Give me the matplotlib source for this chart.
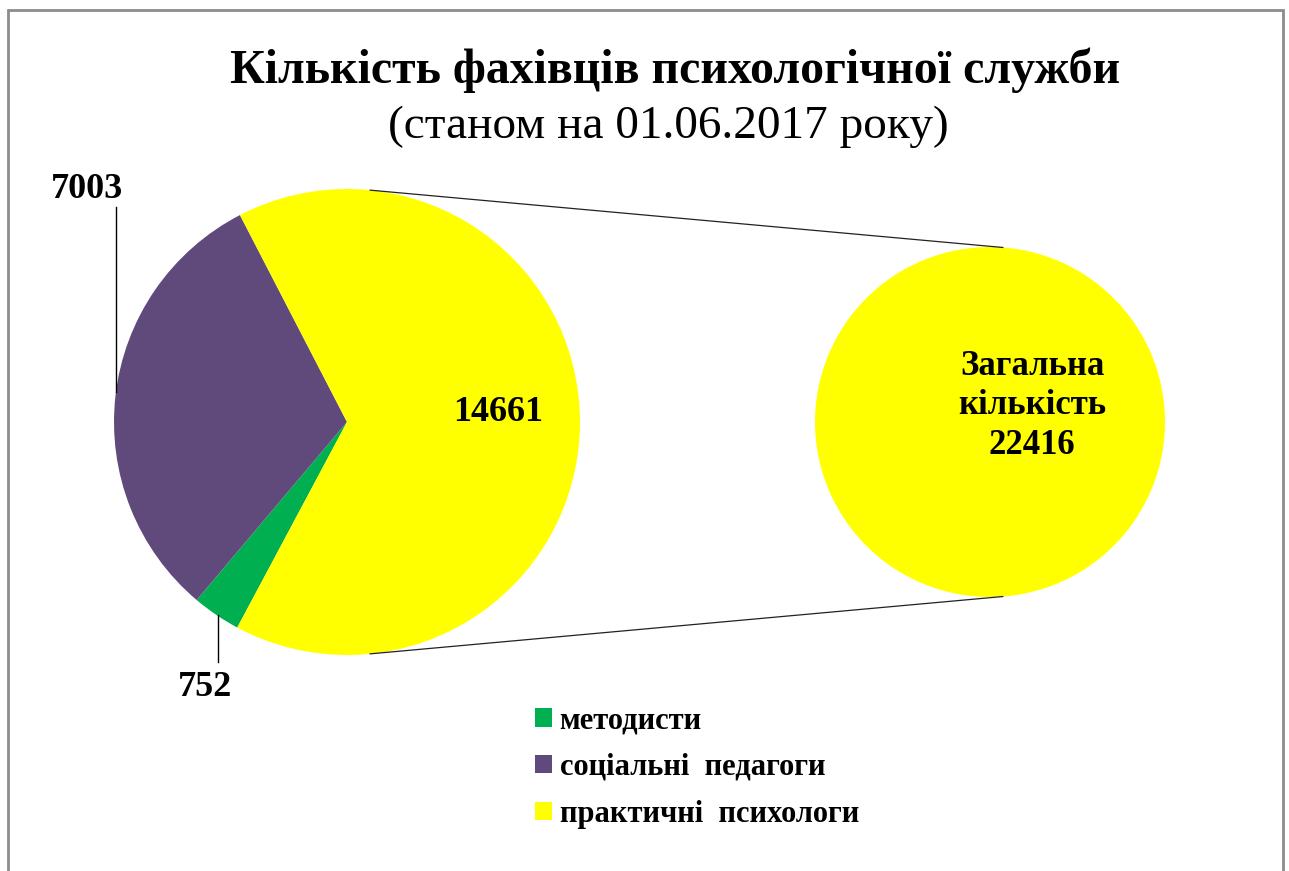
import numpy as np
import matplotlib
matplotlib.use("Agg")
import matplotlib.pyplot as plt
from matplotlib.patches import Rectangle

plt.rcParams['font.family'] = ['Liberation Serif', 'DejaVu Serif']

# дані
categories = ['методисти', 'соціальні  педагоги', 'практичні  психологи']
values = [752, 7003, 14661]
colors = ['#00B050', '#604A7B', '#FFFF00']
total = sum(values)

W, H = 1289, 871
fig = plt.figure(figsize=(W / 100, H / 100), dpi=100)
ax = fig.add_axes([0, 0, 1, 1])

# рамка
ax.add_patch(Rectangle((8, -10), 1275, H - 10 + 10, fill=False,
                       edgecolor='#8c8c8c', linewidth=2))

# основний круг
c1 = (347, H - 422)
r1 = 233
wedges, _ = ax.pie(values, colors=colors, startangle=241.9, counterclock=False,
                   center=c1, radius=r1, frame=True,
                   wedgeprops=dict(linewidth=0))

# другий круг (загальна кількість)
c2 = (990, H - 422)
r2 = 175
ax.pie([total], colors=[colors[2]], center=c2, radius=r2, frame=True,
       wedgeprops=dict(linewidth=0))
ax.set_xlim(0, W)
ax.set_ylim(0, H)
ax.set_aspect('equal')
ax.axis('off')

# лінії з'єднання
a1 = np.deg2rad(84.3)
a2 = np.deg2rad(85.8)
for s in (1, -1):
    p1 = (c1[0] + r1 * np.cos(a1), c1[1] + s * r1 * np.sin(a1))
    p2 = (c2[0] + r2 * np.cos(a2), c2[1] + s * r2 * np.sin(a2))
    ax.plot([p1[0], p2[0]], [p1[1], p2[1]], color='#222222', lw=0.9)

# підписи
ax.text(675, H - 70, 'Кількість фахівців психологічної служби', ha='center',
        va='center', fontsize=34.5, fontweight='bold')
ax.text(668, H - 127, '(станом на 01.06.2017 року)', ha='center',
        va='center', fontsize=34)

ax.text(498, H - 413, str(values[2]), ha='center', va='center',
        fontsize=26, fontweight='bold')
ax.text(1032, H - 406, 'Загальна\nкількість\n' + str(total), ha='center',
        va='center', fontsize=25, fontweight='bold', linespacing=1.27)

ax.text(87, H - 190, str(values[1]), ha='center', va='center',
        fontsize=26, fontweight='bold')
ax.plot([116, 116], [H - 207, H - 392], color='black', lw=1)
ax.text(205, H - 687, str(values[0]), ha='center', va='center',
        fontsize=26, fontweight='bold')
ax.plot([218, 218], [H - 615, H - 662], color='black', lw=1)

ax.legend(wedges, categories, loc='upper left', bbox_to_anchor=(520 / W, 1 - 691 / H),
          frameon=False, prop={'size': 22, 'weight': 'bold'},
          handlelength=0.55, handleheight=0.55, handletextpad=0.25,
          labelspacing=0.58, borderpad=0)

fig.savefig('out.png', dpi=100)
